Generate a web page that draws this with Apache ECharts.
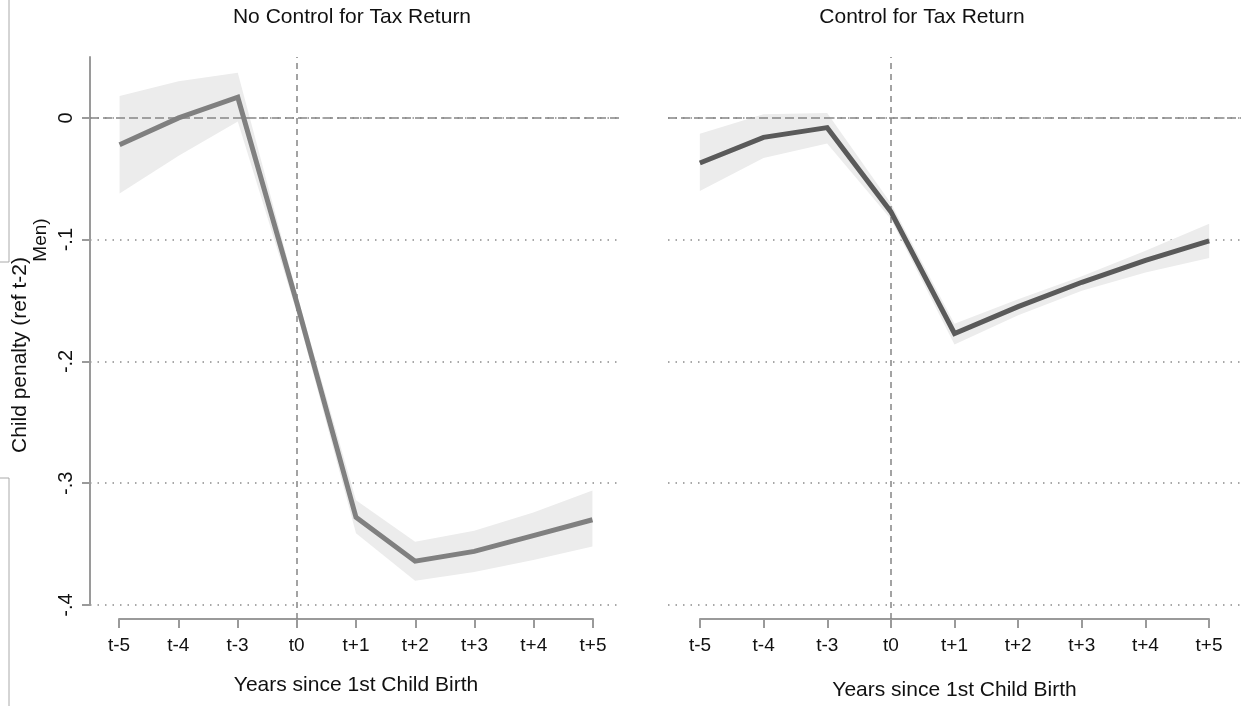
<!DOCTYPE html>
<html>
<head>
<meta charset="utf-8">
<script src="https://cdn.jsdelivr.net/npm/echarts@6/dist/echarts.min.js"></script>
<style>
  html, body { margin: 0; padding: 0; background: #fff; }
  #chart { width: 1241px; height: 706px; }
</style>
</head>
<body>
<div id="chart"></div>
<script>
const categories = ['t-5', 't-4', 't-3', 't0', 't+1', 't+2', 't+3', 't+4', 't+5'];
// no control for tax return
const noCtrl = [-0.022, 0.000, 0.017, -0.152, -0.328, -0.364, -0.356, -0.343, -0.330];
const noCtrlLo = [-0.062, -0.031, -0.003, -0.160, -0.341, -0.380, -0.373, -0.363, -0.352];
const noCtrlHi = [0.018, 0.030, 0.037, -0.145, -0.314, -0.348, -0.339, -0.324, -0.306];
// control for tax return
const ctrl = [-0.037, -0.016, -0.008, -0.077, -0.177, -0.155, -0.135, -0.117, -0.101];
const ctrlLo = [-0.060, -0.033, -0.021, -0.083, -0.186, -0.162, -0.142, -0.127, -0.115];
const ctrlHi = [-0.013, 0.003, 0.004, -0.070, -0.169, -0.149, -0.130, -0.109, -0.087];
const yMin = -0.4, yMax = 0.05, yStep = 0.1;
const panelTitles = ['No Control for Tax Return', 'Control for Tax Return'];
const xTitle = 'Years since 1st Child Birth';
const yTitle = 'Child penalty (ref t-2)';

const FONT = "'Liberation Sans Narrow', 'Liberation Sans', Arial, sans-serif";
const gridGray = '#8c8c8c';
const axisGray = '#9a9a9a';

const chart = echarts.init(document.getElementById('chart'));

const fmtY = v => Math.abs(v) < 1e-9 ? '0' : v.toFixed(1).replace('0.', '.');

function bandSeries(lo, hi, idx) {
  return [{
    type: 'line', xAxisIndex: idx, yAxisIndex: idx, stack: 'band' + idx, stackStrategy: 'all',
    data: lo, symbol: 'none', lineStyle: { opacity: 0 }, silent: true, z: 1
  }, {
    type: 'line', xAxisIndex: idx, yAxisIndex: idx, stack: 'band' + idx, stackStrategy: 'all',
    data: hi.map((h, i) => +(h - lo[i]).toFixed(4)), symbol: 'none',
    lineStyle: { opacity: 0 }, areaStyle: { color: '#ececec', opacity: 1 }, silent: true, z: 1
  }];
}

function mainLine(vals, idx, color) {
  return {
    type: 'line', xAxisIndex: idx, yAxisIndex: idx, data: vals, symbol: 'none', z: 5,
    lineStyle: { color: color, width: 5, join: 'miter' },
    markLine: {
      silent: true, symbol: 'none', label: { show: false }, z: 2,
      data: [{ yAxis: 0, lineStyle: { color: '#858585', width: 1.5, type: [9, 4] } }]
    }
  };
}

// vertical t0 line, drawn in the axis holder grid so it reaches the x axis
function t0Line(idx) {
  return {
    type: 'line', xAxisIndex: idx, yAxisIndex: idx, data: [], symbol: 'none',
    markLine: {
      silent: true, symbol: 'none', label: { show: false },
      data: [{ xAxis: 3, lineStyle: { color: '#858585', width: 1.5, type: [6, 5] } }]
    }
  };
}

const hiddenCat = { type: 'category', data: categories, boundaryGap: true, show: false };
function shownCat(grid, gap) {
  return {
    type: 'category', gridIndex: grid, data: categories, boundaryGap: false,
    axisLine: { onZero: false, lineStyle: { color: axisGray, width: 2 } },
    axisTick: { length: 9, lineStyle: { color: axisGray, width: 2 } },
    axisLabel: { color: '#111', fontFamily: FONT, fontSize: 19, margin: 17 },
    name: xTitle, nameLocation: 'middle', nameGap: gap,
    nameTextStyle: { color: '#111', fontFamily: FONT, fontSize: 21 },
    splitLine: { show: false }
  };
}

let option = {
  animation: false,
  backgroundColor: '#fff',
  title: [
    { text: panelTitles[0], left: 347, top: 2, textAlign: 'center',
      textStyle: { fontFamily: FONT, fontSize: 21, fontWeight: 'normal', color: '#111' } },
    { text: panelTitles[1], left: 917, top: 2, textAlign: 'center',
      textStyle: { fontFamily: FONT, fontSize: 21, fontWeight: 'normal', color: '#111' } }
  ],
  grid: [
    { left: 90, width: 532, top: 57, bottom: 101 },
    { left: 119, width: 474, top: 57, bottom: 87 },
    { left: 668, width: 573, top: 57, bottom: 101 },
    { left: 700, width: 509, top: 57, bottom: 87 }
  ],
  xAxis: [
    Object.assign({ gridIndex: 0 }, hiddenCat),
    shownCat(1, 56),
    Object.assign({ gridIndex: 2 }, hiddenCat),
    shownCat(3, 61)
  ],
  yAxis: [
    {
      type: 'value', gridIndex: 0, min: yMin, max: yMax, interval: yStep,
      axisLine: { show: true, lineStyle: { color: axisGray, width: 2 } },
      axisTick: { show: true, length: 8, lineStyle: { color: axisGray, width: 2 } },
      axisLabel: { rotate: 90, formatter: fmtY, color: '#111', fontFamily: FONT, fontSize: 20, margin: 14,
        showMaxLabel: false },
      splitLine: { showMaxLine: false, lineStyle: { color: gridGray, width: 1.5, type: [1.5, 6] } }
    },
    { type: 'value', gridIndex: 1, min: yMin, max: yMax, show: false },
    {
      type: 'value', gridIndex: 2, min: yMin, max: yMax, interval: yStep,
      axisLine: { show: false }, axisTick: { show: false }, axisLabel: { show: false },
      splitLine: { showMaxLine: false, lineStyle: { color: gridGray, width: 1.5, type: [1.5, 6] } }
    },
    { type: 'value', gridIndex: 3, min: yMin, max: yMax, show: false }
  ],
  graphic: [
    { type: 'text', x: 20, y: 355, rotation: Math.PI / 2,
      style: { text: yTitle, font: '21px ' + FONT, fill: '#111', align: 'center', verticalAlign: 'middle' } },
    { type: 'text', x: 41, y: 240, rotation: Math.PI / 2,
      style: { text: 'Men)', font: '19px ' + FONT, fill: '#111', align: 'center', verticalAlign: 'middle' } },
    { type: 'line', shape: { x1: 9, y1: 0, x2: 9, y2: 262 }, style: { stroke: '#aaa', lineWidth: 1 } },
    { type: 'line', shape: { x1: 0, y1: 262, x2: 9, y2: 262 }, style: { stroke: '#aaa', lineWidth: 1 } },
    { type: 'line', shape: { x1: 0, y1: 478, x2: 9, y2: 478 }, style: { stroke: '#aaa', lineWidth: 1 } },
    { type: 'line', shape: { x1: 9, y1: 478, x2: 9, y2: 706 }, style: { stroke: '#aaa', lineWidth: 1 } }
  ],
  series: [
    ...bandSeries(noCtrlLo, noCtrlHi, 0),
    mainLine(noCtrl, 0, '#808080'),
    t0Line(1),
    ...bandSeries(ctrlLo, ctrlHi, 2),
    mainLine(ctrl, 2, '#5a5a5a'),
    t0Line(3)
  ]
};
chart.setOption(option);
</script>
</body>
</html>
